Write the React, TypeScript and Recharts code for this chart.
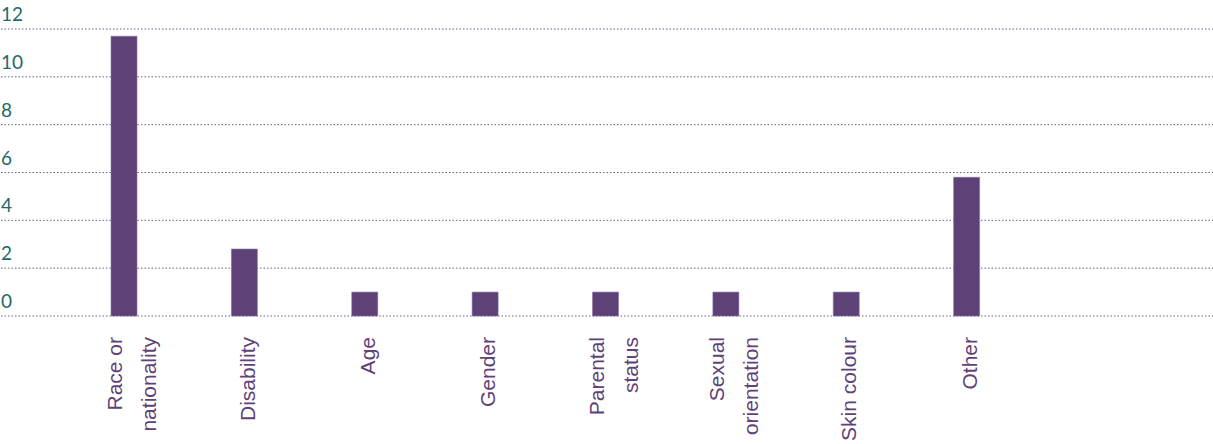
import { BarChart, Bar, CartesianGrid, XAxis, YAxis } from "recharts";

const categories = [
  "Race or\nnationality",
  "Disability",
  "Age",
  "Gender",
  "Parental\nstatus",
  "Sexual\norientation",
  "Skin colour",
  "Other",
];

const counts = [11.7, 2.8, 1, 1, 1, 1, 1, 5.8];

const yTicks = [0, 2, 4, 6, 8, 10, 12];

const data = categories.map((category, index) => ({
  category,
  count: counts[index],
}));

function CategoryTick(props: any) {
  const { x, y, payload } = props;
  const lines = String(payload.value).split("\n");
  const offsets = lines.length > 1 ? [-2, 32] : [10];

  return (
    <g transform={`translate(${x},${y + 13}) rotate(-90)`}>
      {lines.map((line, index) => (
        <text
          key={line}
          x={0}
          y={offsets[index]}
          textAnchor="end"
          fontSize={21}
          fontFamily="'Liberation Sans', Arial, sans-serif"
          fill="#5e4278"
        >
          {line}
        </text>
      ))}
    </g>
  );
}

function ValueTick(props: any) {
  const { y, payload } = props;

  return (
    <text
      x={1}
      y={y - 8}
      textAnchor="start"
      fontSize={19}
      fontFamily="Lato, 'Open Sans', sans-serif"
      fill="#246868"
    >
      {payload.value}
    </text>
  );
}

export default function App() {
  return (
    <div
      style={{
        position: "absolute",
        left: 0,
        top: 0,
        width: 1213,
        height: 444,
        background: "#ffffff",
      }}
    >
      <BarChart
        width={1213}
        height={444}
        data={data}
        margin={{ top: 29, right: 0, left: 0, bottom: 0 }}
      >
        <CartesianGrid
          vertical={false}
          stroke="#6f5b95"
          strokeDasharray="1.5 2"
        />

        <XAxis
          dataKey="category"
          height={128}
          interval={0}
          axisLine={false}
          tickLine={false}
          tick={<CategoryTick />}
          padding={{ left: 63, right: 186 }}
        />

        <YAxis
          width={1}
          domain={[0, 12]}
          ticks={yTicks}
          axisLine={false}
          tickLine={false}
          tick={<ValueTick />}
        />

        <Bar
          dataKey="count"
          fill="#5e4177"
          stroke="#8a74a3"
          strokeWidth={0.6}
          barSize={26}
          isAnimationActive={false}
        />
      </BarChart>
    </div>
  );
}
